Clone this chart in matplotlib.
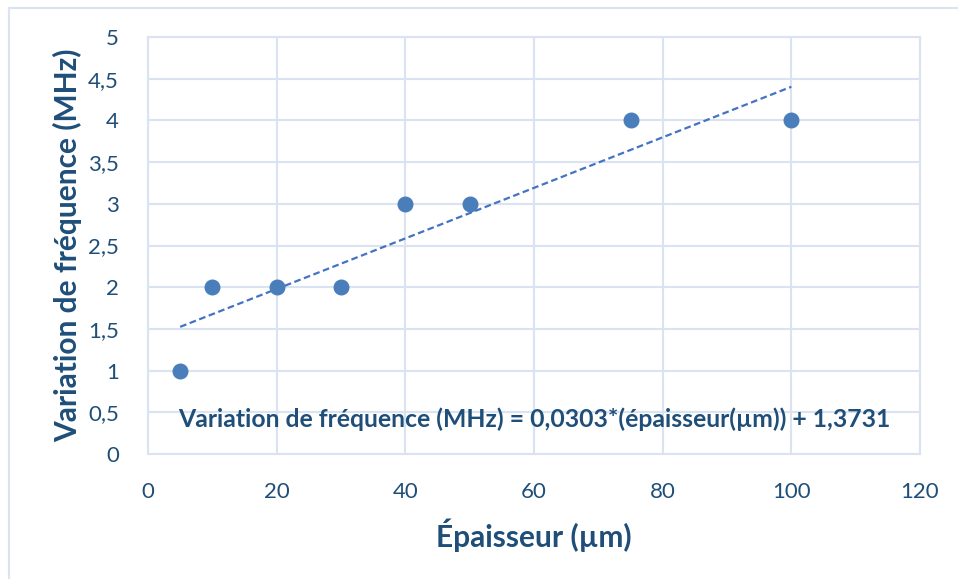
import numpy as np
import matplotlib.pyplot as plt
from matplotlib.lines import Line2D

# données
epaisseur = [5, 10, 20, 30, 40, 50, 75, 100]
variation = [1, 2, 2, 2, 3, 3, 4, 4]
pente, ordonnee = 0.0303, 1.3731
x_ticks = [0, 20, 40, 60, 80, 100, 120]
y_ticks = [0, 0.5, 1, 1.5, 2, 2.5, 3, 3.5, 4, 4.5, 5]
y_labels = ["0", "0,5", "1", "1,5", "2", "2,5", "3", "3,5", "4", "4,5", "5"]

plt.rcParams['font.family'] = ['Lato', 'DejaVu Sans']
texte = "#1F4E79"
grille = "#D9E3F2"
bleu = "#4A7EBB"

fig = plt.figure(figsize=(9.58, 5.79), dpi=100)
ax = fig.add_axes([148/958, 1-454/579, (920-148)/958, (454-37)/579])

# cadre extérieur (haut et gauche)
fig.add_artist(Line2D([9/958, 9/958], [0, 1-8/579], transform=fig.transFigure, color=grille, lw=1.5))
fig.add_artist(Line2D([9/958, 1], [1-8/579, 1-8/579], transform=fig.transFigure, color=grille, lw=1.5))

# courbe de tendance
xt = np.array([min(epaisseur), max(epaisseur)])
ax.plot(xt, pente*xt + ordonnee, linestyle=(0, (3, 1.6)), color="#4472C4", lw=1.6, zorder=2)
ax.plot(epaisseur, variation, 'o', color=bleu, markersize=10.5, zorder=3)

ax.set_xlim(0, 120)
ax.set_ylim(0, 5)
ax.set_xticks(x_ticks)
ax.set_yticks(y_ticks)
ax.set_yticklabels(y_labels)
ax.grid(True, color=grille, lw=1.5)
ax.set_axisbelow(True)
for s in ax.spines.values():
    s.set_color(grille)
    s.set_linewidth(1.5)
ax.tick_params(length=0, colors=texte, labelsize=16)
ax.tick_params(axis='x', pad=20)
ax.tick_params(axis='y', pad=21)

ax.set_xlabel("Épaisseur (µm)", fontsize=21.5, fontweight='bold', color=texte, labelpad=12)
ax.set_ylabel("Variation de fréquence (MHz)", fontsize=21.5, fontweight='bold', color=texte, labelpad=4)

ax.text(60, 0.42, "Variation de fréquence (MHz) = 0,0303*(épaisseur(µm)) + 1,3731",
        fontsize=17.8, fontweight='bold', color=texte, ha='center', va='center')

fig.savefig("out.png", dpi=100)
